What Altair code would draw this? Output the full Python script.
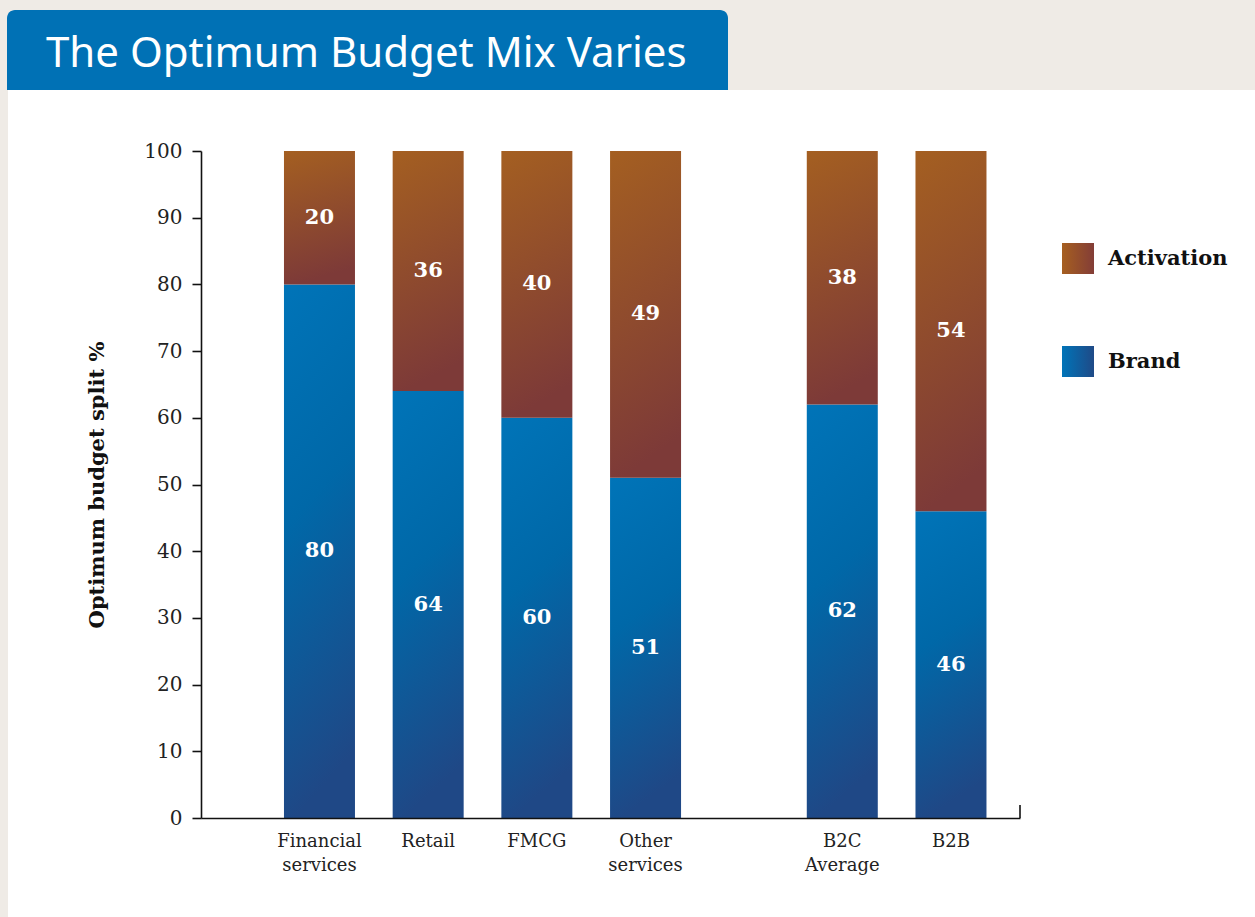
import altair as alt
import pandas as pd

# ---- data ----
categories = ["Financial services", "Retail", "FMCG", "Other services", "B2C Average", "B2B"]
category_labels = ["Financial\nservices", "Retail", "FMCG", "Other\nservices", "B2C\nAverage", "B2B"]
group = [0, 0, 0, 0, 1, 1]
brand = [80, 64, 60, 51, 62, 46]
activation = [20, 36, 40, 49, 38, 54]
legend_names = ["Activation", "Brand"]
y_ticks = [0, 10, 20, 30, 40, 50, 60, 70, 80, 90, 100]

GROUP_GAP = 0.81
slot = [i + 1 + g * GROUP_GAP for i, g in enumerate(group)]

df = pd.DataFrame({
    "category": categories,
    "label": category_labels,
    "slot": slot,
    "brand": brand,
    "activation": activation,
})
df["total"] = df["brand"] + df["activation"]
df["brand_mid"] = df["brand"] / 2
df["act_mid"] = df["brand"] + df["activation"] / 2

one = pd.DataFrame({"k": [0]})

W, H = 819, 667
PAD = {"left": 201, "top": 151, "right": 235, "bottom": 99}

SERIF = "DejaVu Serif"

brand_grad = {
    "gradient": "linear", "x1": 0, "y1": 0, "x2": 0.15, "y2": 1,
    "stops": [{"offset": 0, "color": "#0074b8"}, {"offset": 0.45, "color": "#0068a8"},
              {"offset": 1, "color": "#1f4886"}],
}
act_grad = {
    "gradient": "linear", "x1": 0, "y1": 0, "x2": 0.15, "y2": 1,
    "stops": [{"offset": 0, "color": "#a45f21"}, {"offset": 1, "color": "#7d3a38"}],
}
brand_grad_h = {
    "gradient": "linear", "x1": 0, "y1": 0, "x2": 1, "y2": 0,
    "stops": [{"offset": 0, "color": "#0074b8"}, {"offset": 1, "color": "#1f4a87"}],
}
act_grad_h = {
    "gradient": "linear", "x1": 0, "y1": 0, "x2": 1, "y2": 0,
    "stops": [{"offset": 0, "color": "#a65f20"}, {"offset": 1, "color": "#833d37"}],
}

xscale = alt.Scale(domain=[-0.09, 7.445], nice=False, zero=False, padding=0)
yscale = alt.Scale(domain=[0, 100], nice=False, padding=0)

# ---- background panel and title tab ----
panel = alt.Chart(one).mark_rect(color="white").encode(
    x=alt.value(-193), x2=alt.value(1054), y=alt.value(-61), y2=alt.value(766)
)
tab = alt.Chart(one).mark_rect(
    color="#0071b5", cornerRadiusTopLeft=8, cornerRadiusTopRight=8
).encode(x=alt.value(-194), x2=alt.value(527), y=alt.value(-141), y2=alt.value(-61))
title = alt.Chart(one).mark_text(
    text="The Optimum Budget Mix Varies", color="white", font="Noto Sans",
    fontSize=42, align="left", baseline="alphabetic"
).encode(x=alt.value(-155), y=alt.value(-84))

# ---- bars ----
base = alt.Chart(df)
brand_bars = base.mark_bar(color=brand_grad, size=71).encode(
    x=alt.X("slot:Q", scale=xscale,
            axis=alt.Axis(title=None, labels=False, ticks=False, grid=False, zindex=1,
                          domainColor="#111", domainWidth=1.6)),
    y=alt.Y("brand:Q", scale=yscale,
            axis=alt.Axis(values=y_ticks, title="Optimum budget split %", grid=False,
                          zindex=1,
                          domainColor="#111", domainWidth=1.6, tickColor="#111",
                          tickWidth=1.6, tickSize=9, labelPadding=10,
                          labelFont=SERIF, labelFontSize=20, labelColor="#222",
                          titleFont=SERIF, titleFontSize=21, titleFontWeight="bold",
                          titleColor="#111", titleX=-104, titleY=333.5,
                          titleAngle=270, titleAlign="center", titleBaseline="middle")),
    y2=alt.Y2(datum=0),
)
act_bars = base.mark_bar(color=act_grad, size=71).encode(
    x=alt.X("slot:Q", scale=xscale),
    y=alt.Y("total:Q", scale=yscale),
    y2="brand:Q",
)

brand_text = base.mark_text(color="white", font=SERIF, fontSize=21, fontWeight="bold").encode(
    x=alt.X("slot:Q", scale=xscale), y=alt.Y("brand_mid:Q", scale=yscale), text="brand:Q"
)
act_text = base.mark_text(color="white", font=SERIF, fontSize=21, fontWeight="bold").encode(
    x=alt.X("slot:Q", scale=xscale), y=alt.Y("act_mid:Q", scale=yscale), text="activation:Q"
)

cat_text = base.mark_text(
    color="#222", font=SERIF, fontSize=18, baseline="top", lineBreak="\n", lineHeight=24
).encode(x=alt.X("slot:Q", scale=xscale), y=alt.value(682), text="label:N")

end_tick = alt.Chart(one).mark_rule(color="#111", strokeWidth=1.6).encode(
    x=alt.value(819), y=alt.value(654), y2=alt.value(667)
)

# ---- legend ----
leg_act = alt.Chart(one).mark_rect(color=act_grad_h).encode(
    x=alt.value(861), x2=alt.value(893), y=alt.value(92), y2=alt.value(123)
)
leg_brand = alt.Chart(one).mark_rect(color=brand_grad_h).encode(
    x=alt.value(861), x2=alt.value(893), y=alt.value(195), y2=alt.value(226)
)
leg_df = pd.DataFrame({"name": legend_names, "row": [0, 1]})
leg_text = alt.Chart(leg_df).mark_text(
    color="#111", font=SERIF, fontSize=21, fontWeight="bold", align="left", baseline="middle"
).encode(
    x=alt.value(907),
    y=alt.Y("row:Q", scale=alt.Scale(domain=[0, 1], range=[108, 211]), axis=None),
    text="name:N",
)

chart = alt.layer(
    panel, tab, title, brand_bars, act_bars, brand_text, act_text, cat_text,
    end_tick, leg_act, leg_brand, leg_text
).resolve_scale(y="independent").properties(
    width=W, height=H, padding=PAD, autosize="none", background="#efebe6"
).configure_view(stroke=None)

chart.save("out.html", embed_options={"renderer": "svg", "actions": False})
